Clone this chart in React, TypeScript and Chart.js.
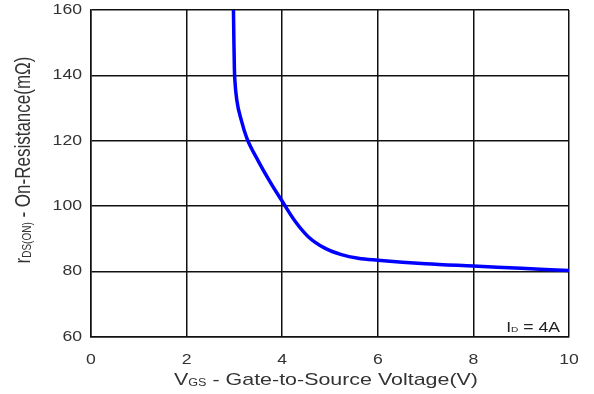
import React, { useEffect, useRef } from "react";
import { Chart, registerables } from "chart.js";

Chart.register(...registerables);

const vgs = [2.98, 2.99, 3.0, 3.01, 3.05, 3.15, 3.26, 3.5, 3.74, 4.0, 4.27, 4.55, 4.9, 5.24, 5.59, 6.0, 7.0, 8.0, 9.0, 10.0];
const rdsOn = [160, 150, 142, 138.5, 132.5, 126.0, 120.8, 113.8, 107.6, 101.5, 95.4, 90.6, 87.1, 85.2, 84.1, 83.5, 82.4, 81.7, 81.0, 80.3];
const xTicks = [0, 2, 4, 6, 8, 10];
const yTicks = [60, 80, 100, 120, 140, 160];
const xTitle = [{ t: "V" }, { t: "GS", sub: true }, { t: " - Gate-to-Source Voltage(V)" }];
const yTitle = [{ t: "r" }, { t: "DS(ON)", sub: true }, { t: " - On-Resistance(m\u03A9)" }];
const note = [{ t: "I" }, { t: "D", sub: true }, { t: " = 4A" }];

const FONT = '"Liberation Sans", Arial, sans-serif';
const TXT = "#333333";
const STRETCH = 1.26;

type Part = { t: string; sub?: boolean };

function drawRich(
  ctx: CanvasRenderingContext2D,
  parts: Part[],
  x: number,
  y: number,
  align: "center" | "right",
  size: number,
  sx: number,
  sy: number
) {
  const subSize = Math.round(size * 0.6);
  ctx.save();
  ctx.translate(x, y);
  ctx.scale(sx, sy);
  const widths = parts.map((p) => {
    ctx.font = `${p.sub ? subSize : size}px ${FONT}`;
    return ctx.measureText(p.t).width;
  });
  const total = widths.reduce((a, b) => a + b, 0);
  let cx = align === "center" ? -total / 2 : -total;
  ctx.textAlign = "left";
  ctx.textBaseline = "alphabetic";
  parts.forEach((p, i) => {
    ctx.font = `${p.sub ? subSize : size}px ${FONT}`;
    ctx.fillText(p.t, cx, p.sub ? 0.5 : 0);
    cx += widths[i];
  });
  ctx.restore();
}

function drawLabel(ctx: CanvasRenderingContext2D, text: string, x: number, y: number, align: "center" | "right") {
  ctx.save();
  ctx.translate(x, y);
  ctx.scale(STRETCH, 1);
  ctx.font = `14px ${FONT}`;
  ctx.textAlign = align;
  ctx.textBaseline = "middle";
  ctx.fillText(text, 0, 0);
  ctx.restore();
}

const textPlugin = {
  id: "texts",
  afterDraw(chart: any) {
    const { ctx } = chart;
    const xs = chart.scales.x;
    const ys = chart.scales.y;
    ctx.save();
    ctx.fillStyle = TXT;
    xTicks.forEach((v) => drawLabel(ctx, String(v), xs.getPixelForValue(v), 360, "center"));
    yTicks.forEach((v) => drawLabel(ctx, String(v), 82, ys.getPixelForValue(v), "right"));
    drawRich(ctx, xTitle, 326, 385, "center", 17, STRETCH, 1);
    ctx.save();
    ctx.translate(30, 160);
    ctx.rotate(-Math.PI / 2);
    drawRich(ctx, yTitle, 0, 0, "center", 17, 1, STRETCH);
    ctx.restore();
    ctx.fillStyle = "#222222";
    drawRich(ctx, note, 560, 331.5, "right", 14, STRETCH, 1);
    ctx.restore();
  },
};

export default function App() {
  const ref = useRef<HTMLCanvasElement | null>(null);
  useEffect(() => {
    document.body.style.margin = "0";
    const canvas = ref.current!;
    const chart = new Chart(canvas, {
      type: "scatter",
      data: {
        datasets: [
          {
            data: vgs.map((x, i) => ({ x, y: rdsOn[i] })),
            showLine: true,
            borderColor: "#0000ff",
            borderWidth: 3.5,
            pointRadius: 0,
            cubicInterpolationMode: "monotone",
          } as any,
        ],
      },
      options: {
        animation: false,
        responsive: false,
        layout: { padding: { top: 10, right: 25, left: 0, bottom: 0 } },
        plugins: { legend: { display: false }, tooltip: { enabled: false } },
        scales: {
          x: {
            type: "linear",
            min: 0,
            max: 10,
            afterBuildTicks: (s: any) => {
              s.ticks = xTicks.map((v) => ({ value: v }));
            },
            afterFit: (s: any) => {
              s.height = 394 - 337;
            },
            ticks: { display: false },
            grid: { color: "#111", lineWidth: 1.5, drawTicks: false },
            border: { color: "#111", width: 1.5 },
          },
          y: {
            type: "linear",
            min: 60,
            max: 160,
            afterBuildTicks: (s: any) => {
              s.ticks = yTicks.map((v) => ({ value: v }));
            },
            afterFit: (s: any) => {
              s.width = 91;
            },
            ticks: { display: false },
            grid: { color: "#111", lineWidth: 1.5, drawTicks: false },
            border: { color: "#111", width: 1.5 },
          },
        },
      },
      plugins: [textPlugin],
    });
    return () => chart.destroy();
  }, []);
  return (
    <div style={{ width: 594, height: 394, background: "#fff" }}>
      <canvas ref={ref} width={594} height={394} style={{ width: 594, height: 394 }} />
    </div>
  );
}
